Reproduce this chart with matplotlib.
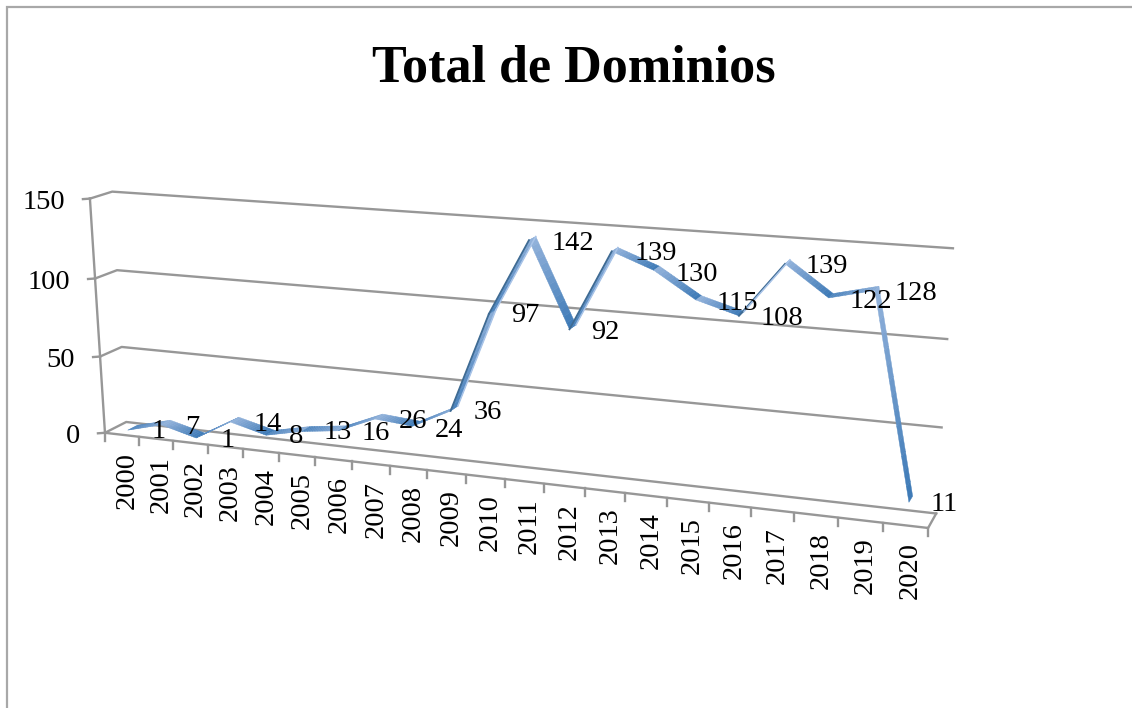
import numpy as np
import matplotlib
matplotlib.use("Agg")
import matplotlib.pyplot as plt
from matplotlib.colors import to_rgb
from matplotlib.patches import Polygon

# ---- data ----
years = [str(y) for y in range(2000, 2021)]
dominios = [1, 7, 1, 14, 8, 13, 16, 26, 24, 36, 97, 142, 92, 139, 130, 115, 108, 139, 122, 128, 11]
value_ticks = [0, 50, 100, 150]
title = "Total de Dominios"

# ---- layout: pixel offsets of the data labels from their marks ----
label_dx = [26, 26, 27, 33, 26, 32, 34, 34, 33, 34, 33, 40, 33, 41, 40, 39, 40, 39, 40, 39, 33]
label_dy = [4, 5, 5, 5, 4, 4, 5, 5, 7, 4, 4, 5, 5, 4, 6, 6, 5, 5, 6, 5, 5]

W, H = 1132, 708
N = len(years)
VMAX = value_ticks[-1]

# ---- perspective camera calibrated on the chart's box corners ----
# (category position, value, depth) -> image pixel
calib = [
    (0, 0, 0, 105, 433), (N, 0, 0, 928, 528), (10, 0, 0, 466, 475),
    (0, 50, 0, 100, 356), (0, 100, 0, 95, 278), (0, 150, 0, 90, 199),
    (0, 0, 1, 126, 422), (N, 0, 1, 936, 513),
    (0, 50, 1, 122, 347), (N, 50, 1, 942, 428),
    (0, 100, 1, 117, 270), (N, 100, 1, 947, 339),
    (0, 150, 1, 112, 192), (N, 150, 1, 953, 248),
]
A, b = [], []
for u, v, d, px, py in calib:
    A.append([u, v, d, 1, 0, 0, 0, 0, -px * u, -px * v, -px * d]); b.append(px)
    A.append([0, 0, 0, 0, u, v, d, 1, -py * u, -py * v, -py * d]); b.append(py)
m = np.linalg.lstsq(np.array(A, float), np.array(b, float), rcond=None)[0]


def project(u, v, d):
    w = m[8] * u + m[9] * v + m[10] * d + 1
    return ((m[0] * u + m[1] * v + m[2] * d + m[3]) / w,
            (m[4] * u + m[5] * v + m[6] * d + m[7]) / w)


plt.rcParams["font.family"] = ["Liberation Serif", "DejaVu Serif"]
fig = plt.figure(figsize=(W / 100, H / 100), dpi=100)
ax = fig.add_axes([0, 0, 1, 1])
ax.set_xlim(0, W)
ax.set_ylim(H, 0)
ax.axis("off")

GRID = "#979797"
LW = 1.7
BORDER = "#a8a8a8"
FS = 20.5

# chart frame
ax.plot([6.5, 6.5, W], [H, 7, 7], color=BORDER, lw=1.6, solid_joinstyle="miter", zorder=1)

# walls and gridlines
for val in value_ticks:
    p0 = project(0, val, 0)
    p1 = project(0, val, 1)
    p2 = project(N, val, 1)
    ax.plot([p0[0], p1[0], p2[0]], [p0[1], p1[1], p2[1]], color=GRID, lw=LW, zorder=2)
    ax.plot([p0[0] - 7, p0[0]], [p0[1] + 0.5, p0[1]], color=GRID, lw=LW, zorder=2)
    ax.text(p0[0] - 25, p0[1] + 4, str(val), ha="right", va="center", fontsize=FS, color="black", zorder=6)

# value axis, floor front edge and floor side
pb, pt = project(0, 0, 0), project(0, VMAX, 0)
ax.plot([pb[0], pt[0]], [pb[1], pt[1]], color=GRID, lw=LW, zorder=2)
fl, fr, br = project(0, 0, 0), project(N, 0, 0), project(N, 0, 1)
ax.plot([fl[0], fr[0], br[0]], [fl[1], fr[1], br[1]], color=GRID, lw=LW, zorder=2)

# category ticks and labels
for i in range(N + 1):
    x, y = project(i, 0, 0)
    ax.plot([x, x], [y, y + 8], color=GRID, lw=LW, zorder=2)
for i, lab in enumerate(years):
    x, y = project(i + 0.5, 0, 0)
    ax.text(x + 5, y + 17, lab, rotation=90, ha="center", va="top", fontsize=FS, color="black", zorder=6)

# 3-D line ribbon
D_MID, D_HALF = 0.5, 0.22
LIGHT = np.array(to_rgb("#a3bde2"))
DARK = np.array(to_rgb("#3c79b6"))
EDGE_DARK = "#3f6b93"
EDGE_LIGHT = "#a9c4e8"
STEPS = 14


def shade(t):
    return LIGHT + (DARK - LIGHT) * t


for i in range(N - 1):
    u0, u1 = i + 0.5, i + 1.5
    v0, v1 = dominios[i], dominios[i + 1]
    a0 = np.array(project(u0, v0, D_MID - D_HALF))
    a1 = np.array(project(u1, v1, D_MID - D_HALF))
    b0 = np.array(project(u0, v0, D_MID + D_HALF))
    b1 = np.array(project(u1, v1, D_MID + D_HALF))
    rising = v1 > v0
    for k in range(STEPS):
        t0, t1 = k / STEPS, (k + 1) / STEPS
        quad = [a0 + (a1 - a0) * t0, a0 + (a1 - a0) * t1, b0 + (b1 - b0) * t1, b0 + (b1 - b0) * t0]
        tm = (t0 + t1) / 2
        col = shade(0.15 + 0.85 * tm) if not rising else shade(0.85 - 0.6 * tm)
        ax.add_patch(Polygon(quad, closed=True, facecolor=col, edgecolor=col, lw=0.3, zorder=3))
    if rising and (v1 - v0) > 20:
        ax.plot([a0[0], a1[0]], [a0[1], a1[1]], color=EDGE_DARK, lw=1.3, zorder=4)
        ax.plot([b0[0], b1[0]], [b0[1], b1[1]], color=EDGE_LIGHT, lw=1.1, zorder=4)

# data labels
for i, val in enumerate(dominios):
    x, y = project(i + 0.5, val, D_MID)
    ax.text(x + label_dx[i], y + label_dy[i], str(val), ha="center", va="center", fontsize=FS, color="black", zorder=7)

ax.text(574, 69, title, ha="center", va="center", fontsize=37.5, fontweight="bold", color="black", zorder=7)

fig.savefig("out.png", dpi=100)
